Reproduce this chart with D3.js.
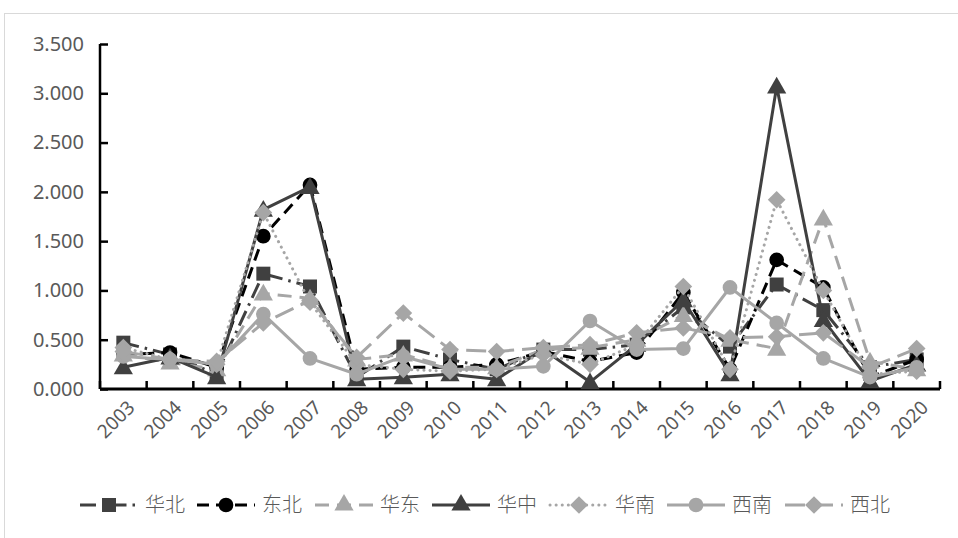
<!DOCTYPE html>
<html>
<head>
<meta charset="utf-8">
<script src="https://cdn.jsdelivr.net/npm/d3@7"></script>
<style>
  html, body { margin: 0; padding: 0; background: #fff; }
  svg { display: block; }
</style>
</head>
<body>
<svg id="chart" width="958" height="538"></svg>
<script>
// Years on the category axis
const years = ["2003","2004","2005","2006","2007","2008","2009","2010","2011","2012",
               "2013","2014","2015","2016","2017","2018","2019","2020"];

// Regional series
const huabei   = [0.47,0.35,0.15,1.17,1.04,0.12,0.43,0.30,0.20,0.40,0.40,0.45,0.83,0.43,1.06,0.80,0.22,0.30];
const dongbei  = [0.35,0.37,0.22,1.55,2.07,0.20,0.22,0.22,0.25,0.38,0.28,0.37,0.98,0.20,1.31,1.03,0.12,0.30];
const huadong  = [0.35,0.27,0.20,0.97,0.92,0.30,0.35,0.22,0.22,0.40,0.42,0.50,0.75,0.50,0.41,1.73,0.28,0.20];
const huazhong = [0.22,0.32,0.12,1.82,2.05,0.10,0.12,0.15,0.10,0.40,0.07,0.45,0.90,0.15,3.07,0.70,0.08,0.25];
const huanan   = [0.42,0.30,0.25,1.79,0.88,0.25,0.20,0.18,0.20,0.35,0.25,0.45,1.04,0.20,1.92,1.00,0.15,0.18];
const xinan    = [0.33,0.30,0.25,0.76,0.31,0.15,0.33,0.20,0.20,0.23,0.69,0.40,0.41,1.03,0.67,0.31,0.12,0.22];
const xibei    = [0.38,0.30,0.28,0.67,0.90,0.32,0.77,0.40,0.38,0.42,0.45,0.57,0.62,0.52,0.53,0.57,0.22,0.41];

const yTicks = [0, 0.5, 1.0, 1.5, 2.0, 2.5, 3.0, 3.5];

const DARK = "#404040", BLACK = "#000000", LIGHT = "#a6a6a6";

const series = [
  { name: "华北", values: huabei,   color: DARK,  dash: "16,6,2.5,6", cap: "butt",  marker: "square"  },
  { name: "东北", values: dongbei,  color: BLACK, dash: "12,7",       cap: "butt",  marker: "circle"  },
  { name: "华东", values: huadong,  color: LIGHT, dash: "14,8",       cap: "butt",  marker: "triangle"},
  { name: "华中", values: huazhong, color: DARK,  dash: null,         cap: "butt",  marker: "triangle"},
  { name: "华南", values: huanan,   color: LIGHT, dash: "0.1,6",      cap: "round", marker: "diamond" },
  { name: "西南", values: xinan,    color: LIGHT, dash: null,         cap: "butt",  marker: "circle"  },
  { name: "西北", values: xibei,    color: LIGHT, dash: "20,8",       cap: "butt",  marker: "diamond" }
];

const svg = d3.select("#chart");
const NUM_FONT = "'Noto Sans', 'Open Sans', sans-serif";
const CJK_FONT = "'Noto Sans CJK SC', sans-serif";
const TEXT = "#595959";

// Outer chart frame
svg.append("rect")
  .attr("x", 4.5).attr("y", 13.5)
  .attr("width", 1000).attr("height", 600)
  .attr("fill", "none").attr("stroke", "#d9d9d9").attr("stroke-width", 1);

const plot = { left: 100, right: 940, top: 44, bottom: 389 };

const x = d3.scaleBand().domain(years).range([plot.left, plot.right]);
const y = d3.scaleLinear().domain([0, 3.5]).range([plot.bottom, plot.top]);

// Y axis
const yAxis = svg.append("g").attr("transform", `translate(${plot.left},0)`)
  .call(d3.axisRight(y).tickValues(yTicks).tickFormat(d3.format(".3f")).tickSize(8));
yAxis.select(".domain").attr("stroke", "#000").attr("stroke-width", 2.5)
  .attr("d", `M0,${plot.top}V${plot.bottom}`);
yAxis.selectAll(".tick line").attr("stroke", "#000").attr("stroke-width", 2.5);
yAxis.selectAll(".tick text")
  .attr("x", -16).attr("text-anchor", "end")
  .attr("fill", TEXT).style("font-family", NUM_FONT).style("font-size", "20px");

// X axis: tick marks sit between categories
const xAxis = svg.append("g").attr("transform", `translate(0,${plot.bottom})`);
xAxis.append("line")
  .attr("x1", plot.left).attr("x2", plot.right)
  .attr("stroke", "#000").attr("stroke-width", 3);
const bounds = d3.range(years.length + 1).map(i => plot.left + i * x.step());
xAxis.selectAll("line.tk").data(bounds).join("line").attr("class", "tk")
  .attr("x1", d => d).attr("x2", d => d).attr("y1", 0).attr("y2", -8)
  .attr("stroke", "#000").attr("stroke-width", 2.5);
xAxis.selectAll("text").data(years).join("text")
  .attr("transform", d => `translate(${x(d) + x.bandwidth() / 2 + 8},${15}) rotate(-45)`)
  .attr("text-anchor", "end").attr("dy", "0.35em")
  .attr("fill", TEXT).style("font-family", NUM_FONT).style("font-size", "19px")
  .text(d => d);

// Marker symbols
const symType = { square: d3.symbolSquare, circle: d3.symbolCircle, triangle: d3.symbolTriangle, diamond: d3.symbolDiamond2 };
const symSize = { square: 196, circle: 170, triangle: 160, diamond: 200 };
function marker(sel, s) {
  const p = d3.symbol().type(symType[s.marker]).size(symSize[s.marker]);
  sel.attr("d", p()).attr("fill", s.color).attr("stroke", "none");
}

const line = d3.line()
  .x((d, i) => x(years[i]) + x.bandwidth() / 2)
  .y(d => y(d));

series.forEach(s => {
  const g = svg.append("g");
  g.append("path").datum(s.values)
    .attr("d", line).attr("fill", "none")
    .attr("stroke", s.color).attr("stroke-width", 3)
    .attr("stroke-linejoin", "round").attr("stroke-linecap", s.cap)
    .attr("stroke-dasharray", s.dash);
  g.selectAll("path.m").data(s.values).join("path").attr("class", "m")
    .attr("transform", (d, i) => {
      const dy = s.marker === "triangle" ? 1.5 : 0;
      return `translate(${x(years[i]) + x.bandwidth() / 2},${y(d) + dy})`;
    })
    .call(sel => marker(sel, s));
});

// Legend
const legendX = [80, 197, 315, 432, 550, 667, 785];
const legend = svg.append("g").attr("transform", "translate(0,505)");
series.forEach((s, i) => {
  const g = legend.append("g").attr("transform", `translate(${legendX[i]},0)`);
  g.append("line").attr("x1", 0).attr("x2", 58).attr("y1", 0).attr("y2", 0)
    .attr("stroke", s.color).attr("stroke-width", 3)
    .attr("stroke-linecap", s.cap)
    .attr("stroke-dasharray", s.dash);
  g.append("path").attr("transform", "translate(29,0)").call(sel => marker(sel, s));
  g.append("text").attr("x", 65).attr("dy", "0.35em")
    .attr("fill", TEXT).style("font-family", CJK_FONT).style("font-size", "20px")
    .style("font-weight", 300)
    .text(s.name);
});
</script>
</body>
</html>
